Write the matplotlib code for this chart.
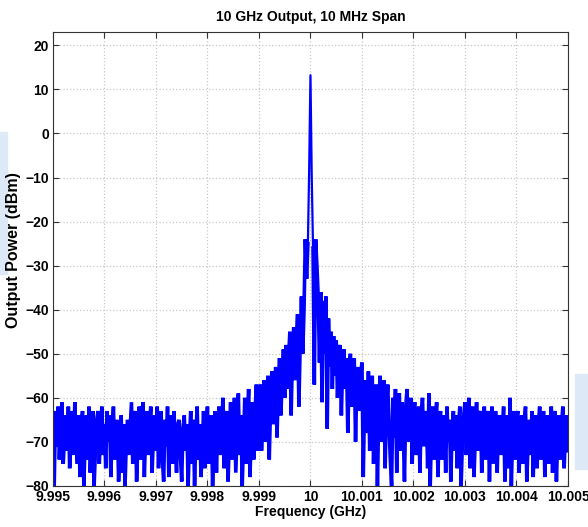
import numpy as np
import matplotlib.pyplot as plt
from matplotlib.patches import Rectangle

plt.rcParams['font.family'] = ['Liberation Sans', 'DejaVu Sans']
plt.rcParams['font.weight'] = 'bold'

# ======================================
# DATA (dBm)
# ======================================

title = '10 GHz Output, 10 MHz Span'
f_start, f_stop = 9.995, 10.005   # GHz

power_dbm = [
    # 9.9950 - 9.9985 : noise floor
    -66, -80, -63, -71, -62, -74, -67, -61, -75, -69, -64, -72, -62, -76, -68, -63, -73, -61, -70, -75,
    -64, -78, -66, -63, -80, -70, -64, -74, -62, -77, -69, -63, -80, -72, -65, -63, -75, -68, -62, -73,
    -66, -76, -63, -70, -64, -78, -67, -62, -74, -69, -65, -79, -71, -64, -77, -66, -80, -70, -65, -73,
    -67, -61, -75, -66, -63, -79, -70, -62, -74, -64, -61, -78, -68, -63, -73, -66, -62, -77, -69, -64,
    -72, -62, -76, -67, -63, -74, -79, -65, -71, -62, -78, -68, -64, -75, -63, -70, -77, -66, -65, -73,
    -79, -67, -64, -72, -66, -80, -70, -63, -75, -65, -80, -69, -62, -74, -66, -78, -71, -63, -76, -68,
    -62, -75, -67, -64, -80, -70, -63, -77, -66, -62, -73, -68, -60, -76, -65, -63, -79, -69, -61, -74,
    # 9.9985 - 10.0000 : left skirt
    -66, -60, -77, -68, -59, -73, -64, -80, -70, -60, -75, -65, -58, -78, -69, -61, -74, -63, -57, -72,
    -67, -57, -72, -63, -56, -70, -60, -55, -74, -62, -54, -66, -59, -53, -69, -58, -51, -64, -56, -49,
    -60, -48, -58, -51, -45, -64, -50, -44, -56, -47, -41, -62, -48, -37, -50, -40, -24, -33, -25, -8,
    # carrier
    13.2,
    # 10.0000 - 10.0015 : right skirt
    -10, -26, -57, -24, -30, -37, -52, -36, -61, -38, -50, -37, -67, -42, -53, -45, -58, -46, -55,
    -47, -60, -50, -48, -64, -52, -49, -58, -51, -68, -55, -50, -62, -53, -51, -70, -57, -53, -63, -55,
    -52, -78, -61, -56, -68, -54, -72, -60, -55, -75, -63, -57, -80, -64, -55, -70, -60, -56, -76, -62,
    # 10.0015 - 10.0050 : noise floor
    -57, -66, -74, -80, -60, -69, -58, -77, -64, -59, -72, -61, -67, -79, -62, -58, -70, -65, -60, -75,
    -63, -61, -73, -68, -62, -77, -64, -60, -71, -66, -63, -76, -59, -80, -67, -62, -74, -65, -61, -78,
    -66, -63, -74, -68, -64, -77, -62, -70, -65, -79, -67, -63, -72, -64, -76, -66, -62, -80, -70, -64,
    -61, -73, -67, -60, -76, -65, -62, -78, -69, -61, -72, -64, -63, -77, -68, -62, -74, -65, -63, -79,
    -66, -62, -75, -69, -63, -77, -65, -64, -73, -67, -62, -79, -70, -64, -76, -60, -80, -68, -63, -74,
    -65, -63, -77, -69, -64, -75, -66, -62, -79, -70, -65, -73, -63, -78, -67, -64, -76, -66, -62, -74,
    -68, -63, -78, -66, -64, -75, -70, -62, -77, -65, -63, -79, -69, -64, -74, -66, -62, -76, -68, -64, -72,
]

x_ticks = [9.995, 9.996, 9.997, 9.998, 9.999, 10.0, 10.001, 10.002, 10.003, 10.004, 10.005]
x_labels = ['9.995', '9.996', '9.997', '9.998', '9.999', '10',
            '10.001', '10.002', '10.003', '10.004', '10.005']
y_ticks = [-80, -70, -60, -50, -40, -30, -20, -10, 0, 10, 20]

freq_ghz = np.linspace(f_start, f_stop, len(power_dbm))
power = np.array(power_dbm)
ipk = int(np.argmax(power))

# ======================================
# PLOT
# ======================================

fig = plt.figure(figsize=(5.88, 5.27), dpi=100)
ax = fig.add_axes([0.090, 0.078, 0.876, 0.861])

# noise floor and skirts drawn heavy, the carrier spike itself thinner
ax.plot(freq_ghz[:ipk - 1], power[:ipk - 1], color='#0000ff', linewidth=2.6,
        solid_joinstyle='miter')
ax.plot(freq_ghz[ipk + 2:], power[ipk + 2:], color='#0000ff', linewidth=2.6,
        solid_joinstyle='miter')
ax.plot(freq_ghz[ipk - 2:ipk + 3], power[ipk - 2:ipk + 3], color='#0000ff',
        linewidth=1.6)

ax.set_xlim(f_start, f_stop)
ax.set_ylim(-80, 23)
ax.set_xticks(x_ticks)
ax.set_xticklabels(x_labels)
ax.set_yticks(y_ticks)

ax.grid(True, color='#c8c8c8', linestyle=':', linewidth=0.9)
ax.tick_params(direction='in', top=True, right=True, labelsize=10,
               length=4, color='#333333', pad=3)
for s in ax.spines.values():
    s.set_color('#333333')

ax.set_title(title, fontsize=10, fontweight='bold', pad=8)
ax.set_xlabel('Frequency (GHz)', fontsize=10, fontweight='bold', labelpad=1)
ax.set_ylabel('Output Power (dBm)', fontsize=11.5, fontweight='bold')
ax.yaxis.set_label_coords(-0.062, 0.52)

# faint blue scanning artefacts at the image edges
fig.patches.append(Rectangle((0.0, 0.48), 0.012, 0.27, transform=fig.transFigure,
                             color='#dde9f6', zorder=-1))
fig.patches.append(Rectangle((0.978, 0.11), 0.022, 0.18, transform=fig.transFigure,
                             color='#dde9f6', zorder=-1))

fig.savefig('out.png', dpi=100)
